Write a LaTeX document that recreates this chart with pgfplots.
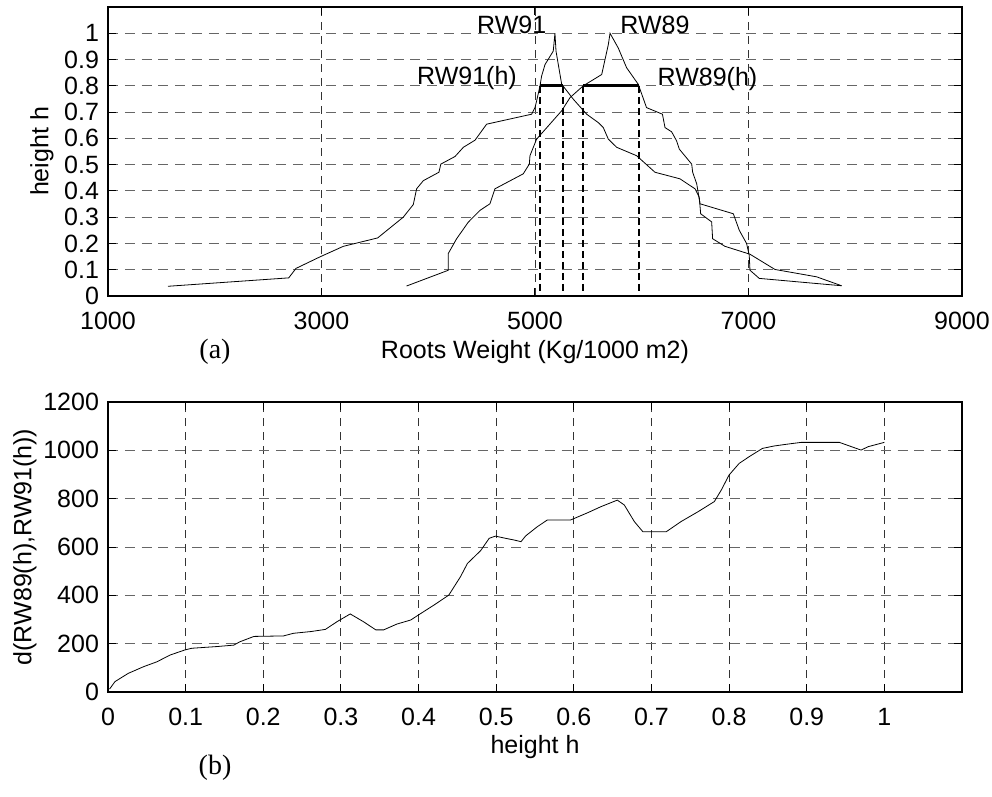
\documentclass[border=0pt]{standalone}
\usepackage{pgfplots}
\pgfplotsset{compat=1.18}
\usepackage{fontspec}
\setmainfont{Liberation Sans}
\newfontfamily\timesfont{Liberation Serif}
\pgfplotsset{
  mstyle/.style={
    scale only axis,
    axis line style={black, line width=0.7pt},
    tick align=inside, tick pos=both,
    major tick length=4pt,
    every tick/.style={black, line width=0.5pt},
    grid=major,
    major x grid style={black!80, line width=0.45pt, dash pattern=on 4pt off 3pt},
    major y grid style={black!60, line width=0.5pt, dash pattern=on 5pt off 3.4pt},
    ticklabel style={font=\fontsize{12.5}{14}\selectfont},
    xticklabel style={yshift=-4.5pt},
    yticklabel style={xshift=-1pt},
    label style={font=\fontsize{12.5}{14}\selectfont},
    /pgf/number format/assume math mode=true,
    /pgf/number format/1000 sep={},
    scaled ticks=false,
  }
}
\begin{document}
\begin{tikzpicture}
\path[use as bounding box] (0,0) rectangle (496pt,-398.5pt);
\begin{axis}[mstyle, at={(54pt,-3.5pt)}, anchor=north west,
  width=427pt, height=144.5pt,
  xmin=1000, xmax=9000, ymin=0, ymax=1.1,
  xtick={1000,3000,5000,7000,9000},
  ytick={0,0.1,0.2,0.3,0.4,0.5,0.6,0.7,0.8,0.9,1},
  xlabel={Roots Weight (Kg/1000 m2)},
  ylabel={height h},
  xlabel style={at={(axis description cs:0.5,-0.194)}, anchor=center},
  ylabel style={at={(axis description cs:-0.0773,0.5)}, anchor=center},
]
% RW91
\addplot[black, line width=0.4pt] coordinates {
(1562,0.037) (2693,0.069) (2761,0.105) (2986,0.149) (3204,0.189) (3526,0.221)
(3766,0.300) (3860,0.348) (3891,0.408) (3954,0.439) (4100,0.471) (4118,0.502)
(4251,0.531) (4329,0.566) (4438,0.593) (4547,0.654) (4969,0.692) (5000,0.717)
(5015,0.742) (5047,0.800) (5062,0.837) (5094,0.881) (5171,0.932) (5187,1.0)
(5197,0.932) (5250,0.806) (5359,0.749) (5484,0.692) (5593,0.660) (5640,0.641)
(5687,0.597) (5765,0.566) (5952,0.534) (6124,0.471) (6358,0.446) (6499,0.408)
(6539,0.376) (6552,0.313) (6655,0.282) (6664,0.218) (6780,0.189) (7014,0.159)
(7248,0.101) (7638,0.073) (7872,0.039)
};
% RW89
\addplot[black, line width=0.4pt] coordinates {
(3797,0.038) (4188,0.098) (4188,0.162) (4266,0.218) (4375,0.281) (4485,0.326)
(4578,0.351) (4625,0.408) (4890,0.465) (4947,0.502) (4953,0.534) (5015,0.597)
(5250,0.705) (5328,0.755) (5452,0.800) (5625,0.843) (5687,0.957) (5703,1.0)
(5780,0.944) (5858,0.869) (5967,0.806) (6045,0.717) (6194,0.692) (6218,0.641)
(6280,0.625) (6326,0.591) (6352,0.559) (6468,0.502) (6477,0.471) (6515,0.427)
(6546,0.351) (6858,0.313) (6914,0.250) (6982,0.200) (7007,0.155) (7014,0.098)
(7101,0.067) (7872,0.039)
};
% h-cut bars
\addplot[black, line width=1.5pt] coordinates {(5047,0.8) (5259,0.8)};
\addplot[black, line width=1.5pt] coordinates {(5452,0.8) (5977,0.8)};
\addplot[black, line width=0.9pt, dash pattern=on 3.5pt off 2pt] coordinates {(5047,0.8) (5047,0)};
\addplot[black, line width=0.9pt, dash pattern=on 3.5pt off 2pt] coordinates {(5259,0.8) (5259,0)};
\addplot[black, line width=0.9pt, dash pattern=on 3.5pt off 2pt] coordinates {(5452,0.8) (5452,0)};
\addplot[black, line width=0.9pt, dash pattern=on 3.5pt off 2pt] coordinates {(5977,0.8) (5977,0)};
\node[font=\fontsize{12.5}{14}\selectfont, inner sep=0.5pt] at (axis cs:4782,1.03) {RW91};
\node[font=\fontsize{12.5}{14}\selectfont, inner sep=0.5pt] at (axis cs:6124,1.03) {RW89};
\node[font=\fontsize{12.5}{14}\selectfont, inner sep=0.5pt] at (axis cs:4363,0.83) {RW91(h)};
\node[font=\fontsize{12.5}{14}\selectfont, inner sep=0.5pt] at (axis cs:6616,0.825) {RW89(h)};
\end{axis}
\node[font=\timesfont\fontsize{14}{16}\selectfont] at (107.5pt,-176pt) {(a)};
\begin{axis}[mstyle, at={(54pt,-201pt)}, anchor=north west,
  width=427pt, height=145pt,
  xmin=0, xmax=1.1, ymin=0, ymax=1200,
  xtick={0,0.1,0.2,0.3,0.4,0.5,0.6,0.7,0.8,0.9,1},
  ytick={0,200,400,600,800,1000,1200},
  xlabel={height h},
  ylabel={d(RW89(h),RW91(h))},
  xlabel style={at={(axis description cs:0.5,-0.19)}, anchor=center},
  ylabel style={at={(axis description cs:-0.0972,0.5)}, anchor=center},
]
\addplot[black, line width=0.4pt] coordinates {
(0.002,12) (0.009,43) (0.026,77) (0.046,105) (0.063,125) (0.08,153) (0.099,174)
(0.108,181) (0.14,188) (0.162,194) (0.17,208) (0.188,230) (0.226,232) (0.239,243)
(0.261,250) (0.28,259) (0.295,291) (0.312,323) (0.329,291) (0.345,257) (0.355,257)
(0.372,281) (0.39,298) (0.40,319) (0.42,360) (0.439,401) (0.454,477) (0.463,532)
(0.48,585) (0.491,636) (0.499,645) (0.512,636) (0.523,629) (0.532,622) (0.538,646)
(0.553,684) (0.566,712) (0.596,712) (0.618,742) (0.635,767) (0.656,794) (0.665,774)
(0.678,705) (0.689,663) (0.719,663) (0.738,705) (0.76,746) (0.781,788) (0.79,836)
(0.80,898) (0.813,946) (0.826,974) (0.843,1008) (0.858,1018) (0.876,1026)
(0.893,1033) (0.942,1033) (0.97,1001) (0.979,1015) (1.0,1033)
};
\end{axis}
\node[font=\timesfont\fontsize{14}{16}\selectfont] at (107.5pt,-384pt) {(b)};
\end{tikzpicture}
\end{document}
